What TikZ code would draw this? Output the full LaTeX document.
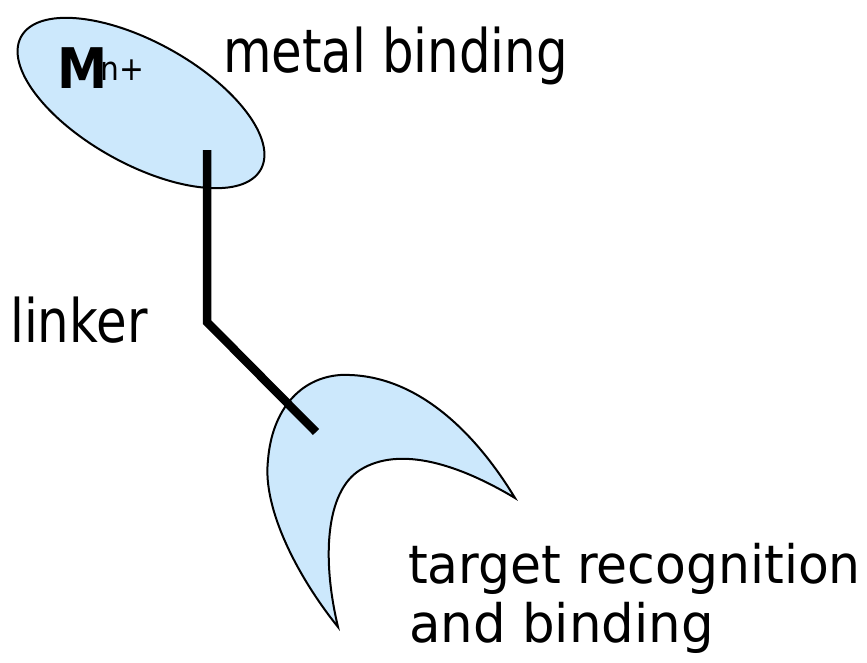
\documentclass[tikz,border=0pt]{standalone}
\usepackage{fontspec}
\setmainfont{DejaVu Sans}
\definecolor{paleblue}{RGB}{204,232,252}
\tikzset{
  blob/.style={fill=paleblue, draw=black, line width=2pt},
  linkerline/.style={draw=black, line width=8.5pt, line join=miter},
  toplbl/.style={inner sep=0pt, font=\fontsize{60}{60}\selectfont},
  botlbl/.style={inner sep=0pt, font=\fontsize{53}{59}\selectfont},
}
\begin{document}
\begin{tikzpicture}[x=1pt,y=1pt]
\useasboundingbox (0,0) rectangle (867,-662);
\fill[white] (0,0) rectangle (867,-662);
% metal binding ellipse
\draw[blob] (141,-103) ellipse [x radius=137, y radius=61, rotate=-29];
\node[inner sep=0pt, anchor=base west] (metalion) at (57,-88)
  {\scalebox{0.9}[1]{\fontsize{56}{56}\selectfont\bfseries M}\kern-7pt\raisebox{8pt}{\scalebox{0.9}[1]{\fontsize{33}{33}\selectfont n+}}};
% recognition crescent
\draw[blob] (338,-627) .. controls (300,-580) and (262,-510) .. (268,-460)
  .. controls (272,-410) and (300,-378) .. (340,-375)
  .. controls (420,-372) and (480,-440) .. (515,-498)
  .. controls (460,-465) and (400,-445) .. (360,-470)
  .. controls (325,-492) and (322,-560) .. (338,-627) -- cycle;
% linker
\coordinate (ltop) at (207,-150);
\coordinate (lbend) at (207,-322);
\coordinate (lend) at (316,-432);
\draw[linkerline] (ltop) -- (lbend) -- (lend);
% labels
\node[toplbl, anchor=base west] (metal) at (223,-72) {\scalebox{0.83}[1]{metal binding}};
\node[toplbl, anchor=base west] (linker) at (10,-342) {\scalebox{0.83}[1]{linker}};
\node[botlbl, anchor=base west] (target) at (408,-583) {\scalebox{0.95}[1]{target recognition}};
\node[botlbl, anchor=base west] (andb) at (409,-642) {\scalebox{0.97}[1]{and binding}};
\end{tikzpicture}
\end{document}
